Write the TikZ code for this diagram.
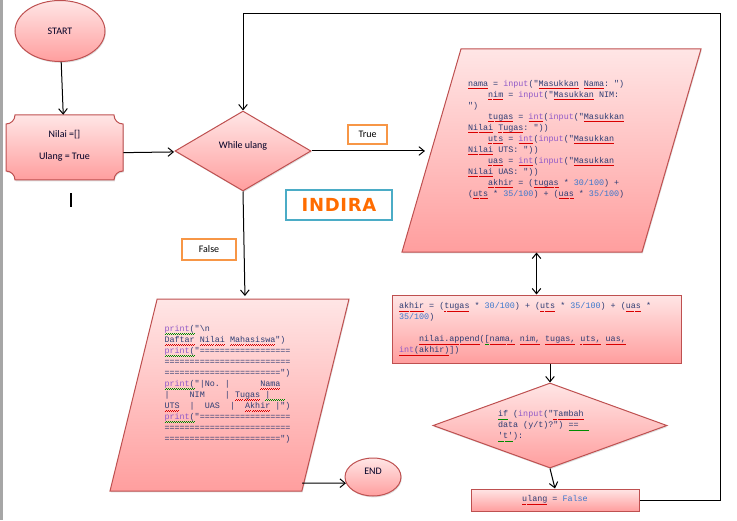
\documentclass[tikz,border=0pt]{standalone}
\usepackage{xcolor}
\usepackage{fontspec}
\usepackage{tikz}
\usetikzlibrary{shapes,shapes.geometric,arrows.meta,positioning,shadows}
\setmainfont{Carlito}
\setmonofont{Liberation Mono}
\newfontfamily\logofont{DejaVu Sans}[BoldFont={DejaVu Sans Bold},LetterSpace=4]
\definecolor{codeblue}{RGB}{45,60,115}
\definecolor{numblue}{RGB}{60,120,205}
\definecolor{kwpurple}{RGB}{145,90,200}
\definecolor{edgered}{RGB}{190,80,80}
\definecolor{tagorange}{RGB}{247,150,70}
\definecolor{tagblue}{RGB}{75,172,198}
\newdimen\px \px=0.75pt
\newdimen\mcw \mcw=3.78pt
\newcommand\wavy[2]{\leavevmode\setbox0\hbox{#2}\rlap{\color{#1}\hbox to\wd0{\xleaders\hbox{\rule[-1.9pt]{.75pt}{.3pt}\rule[-1.6pt]{.75pt}{.3pt}}\hfill}}\box0\relax}
\newcommand\sq[1]{\wavy{red!85!black}{#1}}
\newcommand\gq[1]{\wavy{green!55!black}{#1}}
\newcommand\kw[1]{\textcolor{kwpurple}{#1}}
\newcommand\nm[1]{\textcolor{numblue}{#1}}
\newcommand\blank[1]{\hspace*{#1\mcw}}
\newcommand\prn{\gq{\kw{print}(}}

\begin{document}
\begin{tikzpicture}[
    x=0.75pt, y=-0.75pt,
    flow/.style={draw=edgered, top color=red!10, bottom color=red!38, line width=0.75pt, drop shadow={opacity=0.25, shadow xshift=0.6pt, shadow yshift=-1pt}},
    terminal/.style={flow, ellipse, inner sep=0pt},
    decision/.style={flow, diamond, inner sep=0pt},
    process/.style={flow, rectangle, inner sep=0pt},
    inout/.style={flow, trapezium, trapezium stretches body, inner sep=0pt},
    label/.style={font=\fontsize{7.5}{9}\selectfont, text=black!85!blue, align=center},
    code/.style={font=\ttfamily\fontsize{6.3}{8.25}\selectfont, text=codeblue, align=flush left, inner sep=0pt},
    tag/.style={rectangle, draw=tagorange, line width=1.5pt, font=\fontsize{7.5}{9}\selectfont, inner sep=0pt},
    arrow/.style={-{Straight Barb[length=4pt,width=6.5pt]}, black, line width=0.75pt}
]
\useasboundingbox (0,0) rectangle (737,520);
\fill[black!35] (0,0) rectangle (2.5,520);

% Nodes
\node[terminal, minimum width=90\px, minimum height=61\px, label] (start) at (60,31) {START};

\path[flow] (15,115) -- (114,115) .. controls (114,120) and (118,124) .. (123,124) -- (123,171) .. controls (118,171) and (114,175) .. (114,180) -- (15,180) .. controls (15,175) and (11,171) .. (6,171) -- (6,124) .. controls (11,124) and (15,120) .. (15,115) -- cycle;
\node[minimum width=117\px, minimum height=65\px, inner sep=0pt, label] (init) at (64.5,147.5) {Nilai =[]\\[7.5pt]Ulang = True\\[-5pt]\phantom{x}};
\node[fill=black, minimum width=2\px, minimum height=14\px, inner sep=0pt] (cursor) at (71,200) {};

\node[decision, minimum width=136\px, minimum height=80\px, label] (while) at (243,151) {While ulang\\[0pt]\phantom{x}};

\node[tag, minimum width=39\px, minimum height=19\px] (truetag) at (367.5,134.5) {True};
\node[tag, minimum width=54\px, minimum height=21\px] (falsetag) at (209,249.5) {False};
\node[tag, draw=tagblue, minimum width=106\px, minimum height=30\px, font=\logofont\bfseries\fontsize{13.5}{14}\selectfont, text=orange!85!red] (logo) at (339,205) {\raisebox{-2pt}{INDIRA}};

\node[inout, trapezium left angle=73.8, trapezium right angle=106.2, minimum width=299\px, text height=101.5\px, text depth=101.5\px] (input) at (551.5,150.5) {};
\node[code, text width=160\px] (inputcode) at (548,139.5) {%
\sq{nama} = \kw{input}("\sq{Masukkan} \sq{Nama}: ")\\
\blank{4}\sq{nim} = \kw{input}("\sq{Masukkan} NIM:\\
")\\
\blank{4}\sq{tugas} = \sq{\kw{int}}(\kw{input}("\sq{Masukkan}\\
\sq{Nilai} \sq{Tugas}: "))\\
\blank{4}\sq{uts} = \sq{\kw{int}}(\kw{input}("\sq{Masukkan}\\
\sq{Nilai} UTS: "))\\
\blank{4}\sq{uas} = \sq{\kw{int}}(\kw{input}("\sq{Masukkan}\\
\sq{Nilai} UAS: "))\\
\blank{4}\sq{akhir} = (\sq{tugas} * \nm{30/100}) +\\
(\sq{uts} * \nm{35/100}) + (\sq{uas} * \nm{35/100})};

\node[process, minimum width=289\px, minimum height=68\px] (calc) at (536.5,329) {};
\node[code, text width=275\px] (calccode) at (536.5,329) {%
\sq{akhir} = (\sq{tugas} * \nm{30/100}) + (\sq{uts} * \nm{35/100}) + (\sq{uas} *\\
\nm{35/100})\\[8.25pt]
\blank{4}\sq{nilai.append}(\gq{[}\sq{nama,} \sq{nim,} \sq{tugas,} \sq{uts,} \sq{uas,}\\
\sq{\kw{int}(akhir)}])};

\node[decision, minimum width=234\px, minimum height=85\px] (ifagain) at (550,425.5) {};
\node[code, text width=105\px] (ifcode) at (550.5,426) {%
\gq{if} (\kw{input}("\sq{Tambah}\\
data (y/t)?") \gq{==\ \ }\\
\gq{'t'}):};

\node[process, minimum width=168\px, minimum height=22\px, code] (ulang) at (555,500) {\sq{ulang} = \nm{False}};
\coordinate (loopcorner) at (720,14);

\node[inout, trapezium left angle=76.2, trapezium right angle=103.8, minimum width=239\px, text height=96\px, text depth=96\px] (output) at (229.5,395) {};
\node[code, text width=130\px] (outputcode) at (229.5,384.5) {%
\prn"\textbackslash n\\
\sq{Daftar} \sq{Nilai} \sq{Mahasiswa}")\\
\prn"==================\\
=========================\\
=======================")\\
\prn"|No. |\blank{6}\sq{Nama}\\
|\blank{4}NIM\blank{4}| \sq{Tugas} \gq{|\ \ \ }\\
\sq{UTS}\blank{2}|\blank{2}UAS\blank{2}|\blank{2}\sq{Akhir} |")\\
\prn"==================\\
=========================\\
=======================")};
\coordinate (outputin) at (245,299);
\coordinate (outputout) at (302,483);

\node[terminal, minimum width=56\px, minimum height=38\px, label] (stop) at (373,477) {END\\[-1pt]\phantom{x}};

% Edges
\draw[arrow] (start) -- (init);
\draw[arrow, shorten >=2\px] (init.-5) -- (while);
\draw[arrow, shorten >=6\px] (while.east) -- (while.east -| input.west);
\draw[arrow, shorten >=3\px] (while.south) -- (outputin);
\draw[arrow, {Straight Barb[length=4pt,width=6.5pt]}-{Straight Barb[length=4pt,width=6.5pt]}] (calc.north |- input.south) -- (calc.north);
\draw[arrow] (calc.south -| ifagain.north) -- (ifagain.north);
\draw[arrow] (ifagain.south) -- (ulang.north);
\draw[arrow] (ulang.east) -| (loopcorner) -| (while.north);
\draw[arrow] (outputout) -- (stop.193);

\end{tikzpicture}
\end{document}
